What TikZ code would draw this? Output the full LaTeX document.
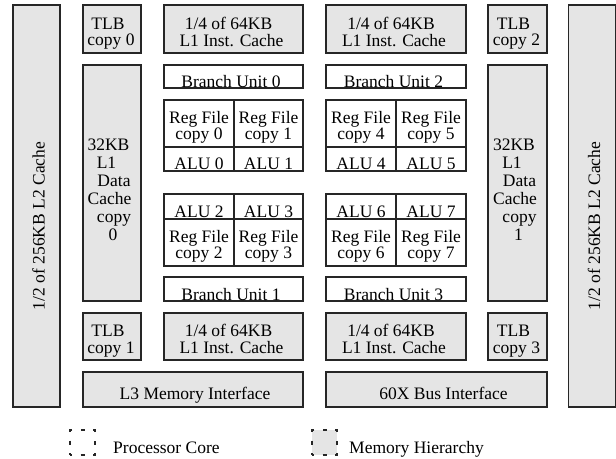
\documentclass[tikz,border=0pt]{standalone}
\usepackage{fontspec}
\setmainfont{Liberation Serif}
\newcommand{\sh}[2]{\makebox[0pt]{\hspace*{#1}#2}}
\newcommand{\bx}[2]{\raisebox{-#1}[\height][\depth]{\begin{tabular}{@{}c@{}}#2\end{tabular}}}
\tikzset{
  blk/.style={draw=black!85, line width=1.1pt, rectangle, inner sep=0pt, outer sep=0pt,
              font=\fontsize{17.5}{16.5}\selectfont},
  mem/.style={blk, fill=black!10},
  core/.style={blk, fill=white},
  rf/.style={core, font=\fontsize{17.5}{15.5}\selectfont, minimum width=70pt, minimum height=47pt},
  alu/.style={core, minimum width=70pt},
  dc/.style={mem, font=\fontsize{17.5}{18}\selectfont, minimum height=236pt},
  legbox/.style={draw=black!85, line width=1.2pt, dash pattern=on 4pt off 8.5pt, dash phase=2pt,
                 minimum size=25pt, inner sep=0pt},
  legtxt/.style={anchor=base west, inner sep=0pt, font=\fontsize{17.5}{16.5}\selectfont}
}
\begin{document}
\begin{tikzpicture}[x=1pt,y=-1pt]
\useasboundingbox (0,0) rectangle (616,458);
% L2 caches
\node[mem, rotate=90, minimum width=402pt, minimum height=47pt] (l2a) at (36.5,206)
  {\bx{4.5pt}{\sh{-40pt}{1/2 of 256KB L2 Cache}}};
\node[mem, rotate=90, minimum width=402pt, minimum height=47pt] (l2b) at (592,206)
  {\bx{4.5pt}{\sh{-40pt}{1/2 of 256KB L2 Cache}}};
% top row
\node[mem, minimum width=58pt, minimum height=48pt] (tlb0) at (112,29)
  {\bx{5pt}{\sh{-8pt}{TLB}\\\sh{-2pt}{copy 0}}};
\node[mem, minimum width=139pt, minimum height=48pt] (ic0) at (233.5,29)
  {\bx{5pt}{\sh{-10pt}{1/4 of 64KB}\\\sh{-4pt}{L1 Inst. Cache}}};
\node[mem, minimum width=140pt, minimum height=48pt] (ic1) at (396,29)
  {\bx{5pt}{\sh{-10pt}{1/4 of 64KB}\\\sh{-4pt}{L1 Inst. Cache}}};
\node[mem, minimum width=59pt, minimum height=48pt] (tlb2) at (517.5,29)
  {\bx{5pt}{\sh{-8pt}{TLB}\\\sh{-2pt}{copy 2}}};
% data caches
\node[dc, minimum width=58pt] (dc0) at (112,183)
  {\bx{8.4pt}{\sh{-7pt}{32KB}\\\sh{-11pt}{L1}\\\sh{4pt}{Data}\\\sh{-5pt}{Cache}\\\sh{4pt}{copy}\\\sh{2pt}{0}}};
\node[dc, minimum width=59pt] (dc1) at (517.5,183)
  {\bx{8.4pt}{\sh{-7pt}{32KB}\\\sh{-11pt}{L1}\\\sh{4pt}{Data}\\\sh{-5pt}{Cache}\\\sh{4pt}{copy}\\\sh{2pt}{1}}};
% branch units
\node[core, minimum width=139pt, minimum height=23pt] (bu0) at (233.5,76.5)
  {\bx{7.5pt}{\sh{-5pt}{Branch Unit 0}}};
\node[core, minimum width=140pt, minimum height=23pt] (bu2) at (396,76.5)
  {\bx{7.5pt}{\sh{-5pt}{Branch Unit 2}}};
\node[core, minimum width=139pt, minimum height=24pt] (bu1) at (233.5,289)
  {\bx{7.5pt}{\sh{-5pt}{Branch Unit 1}}};
\node[core, minimum width=140pt, minimum height=24pt] (bu3) at (396,289)
  {\bx{7.5pt}{\sh{-5pt}{Branch Unit 3}}};
% upper register files and ALUs
\node[rf] (rf0) at (199,123.5) {\bx{4pt}{Reg File\\copy 0}};
\node[rf, minimum width=69pt] (rf1) at (268.5,123.5) {\bx{4pt}{Reg File\\copy 1}};
\node[rf] (rf4) at (361,123.5) {\bx{4pt}{Reg File\\copy 4}};
\node[rf] (rf5) at (431,123.5) {\bx{4pt}{Reg File\\copy 5}};
\node[alu, minimum height=24pt] (alu0) at (199,159) {\bx{7.5pt}{ALU 0}};
\node[alu, minimum height=24pt, minimum width=69pt] (alu1) at (268.5,159) {\bx{7.5pt}{ALU 1}};
\node[alu, minimum height=24pt] (alu4) at (361,159) {\bx{7.5pt}{ALU 4}};
\node[alu, minimum height=24pt] (alu5) at (431,159) {\bx{7.5pt}{ALU 5}};
% lower ALUs and register files
\node[alu, minimum height=25pt] (alu2) at (199,206.5) {\bx{7.5pt}{ALU 2}};
\node[alu, minimum height=25pt, minimum width=69pt] (alu3) at (268.5,206.5) {\bx{7.5pt}{ALU 3}};
\node[alu, minimum height=25pt] (alu6) at (361,206.5) {\bx{7.5pt}{ALU 6}};
\node[alu, minimum height=25pt] (alu7) at (431,206.5) {\bx{7.5pt}{ALU 7}};
\node[rf] (rf2) at (199,242.5) {\bx{4pt}{Reg File\\copy 2}};
\node[rf, minimum width=69pt] (rf3) at (268.5,242.5) {\bx{4pt}{Reg File\\copy 3}};
\node[rf] (rf6) at (361,242.5) {\bx{4pt}{Reg File\\copy 6}};
\node[rf] (rf7) at (431,242.5) {\bx{4pt}{Reg File\\copy 7}};
% bottom row
\node[mem, minimum width=58pt, minimum height=47pt] (tlb1) at (112,336.5)
  {\bx{5pt}{\sh{-8pt}{TLB}\\\sh{-2pt}{copy 1}}};
\node[mem, minimum width=139pt, minimum height=47pt] (ic2) at (233.5,336.5)
  {\bx{5pt}{\sh{-10pt}{1/4 of 64KB}\\\sh{-4pt}{L1 Inst. Cache}}};
\node[mem, minimum width=140pt, minimum height=47pt] (ic3) at (396,336.5)
  {\bx{5pt}{\sh{-10pt}{1/4 of 64KB}\\\sh{-4pt}{L1 Inst. Cache}}};
\node[mem, minimum width=59pt, minimum height=47pt] (tlb3) at (517.5,336.5)
  {\bx{5pt}{\sh{-8pt}{TLB}\\\sh{-2pt}{copy 3}}};
\node[mem, minimum width=220pt, minimum height=35pt] (l3) at (193,389.5)
  {\bx{6.2pt}{\sh{4pt}{L3 Memory Interface}}};
\node[mem, minimum width=221pt, minimum height=35pt] (bus) at (436.5,389.5)
  {\bx{6.2pt}{\sh{14pt}{60X Bus Interface}}};
% legend
\node[legbox, fill=white] (lgcore) at (82.5,442.5) {};
\node[legtxt] (lgcoretxt) at (113,453) {Processor Core};
\node[legbox, fill=black!10] (lgmem) at (324.5,442.5) {};
\node[legtxt] (lgmemtxt) at (349,453) {Memory Hierarchy};
\end{tikzpicture}
\end{document}
